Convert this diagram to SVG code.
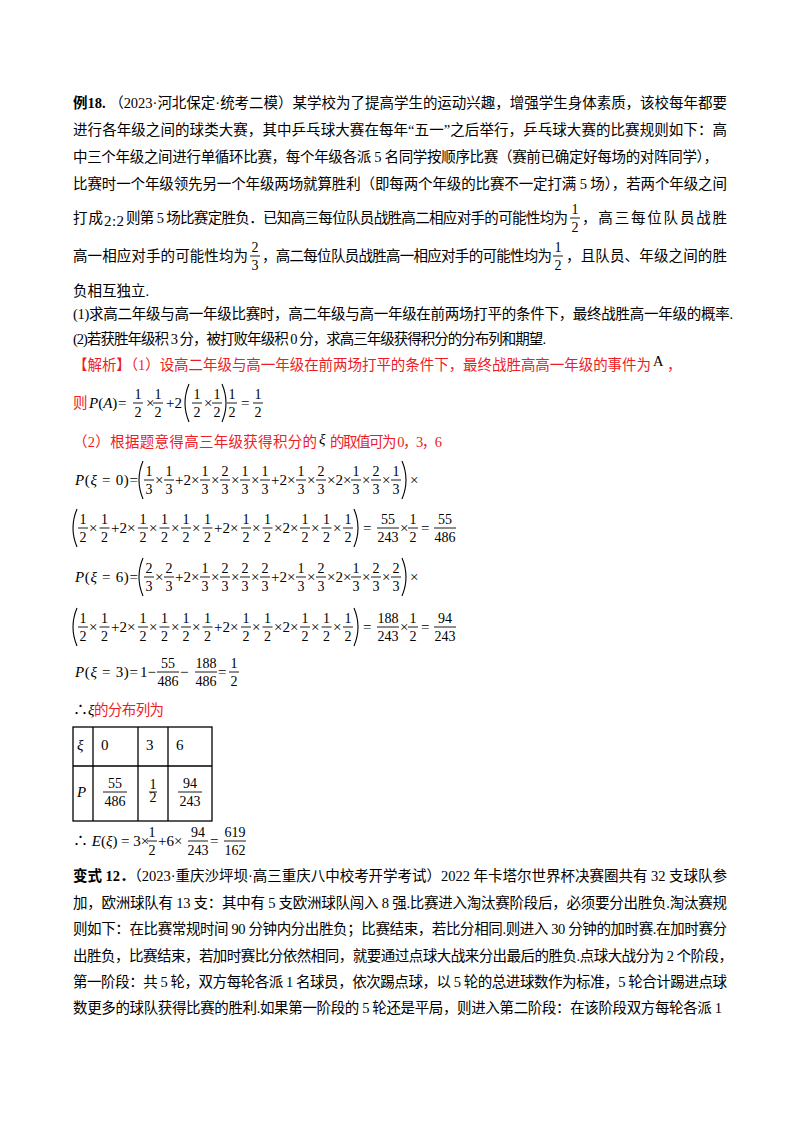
<svg xmlns="http://www.w3.org/2000/svg" xmlns:xlink="http://www.w3.org/1999/xlink" width="800" height="1132" viewBox="0 0 800 1132">
<style>
.t{font-family:"Liberation Serif","Noto Sans CJK SC",serif;font-size:14.5px;fill:#000}
.r{fill:#ee1c25}
.m{font-family:"Liberation Serif","Noto Sans CJK SC",serif;font-size:15px;fill:#000}
.n{font-family:"Liberation Serif",serif;font-size:14px;text-anchor:middle;fill:#000}
.i{font-style:italic}
.bar{stroke:#000;stroke-width:0.9}
.pa{fill:none;stroke:#000;stroke-width:1.1}
.tb{fill:none;stroke:#000;stroke-width:1.3}
</style>
<defs>
<g id="f12"><text class="n" x="0" y="-4">1</text><line class="bar" x1="-5" y1="0" x2="5" y2="0"/><text class="n" x="0" y="14">2</text></g>
<g id="f13"><text class="n" x="0" y="-4">1</text><line class="bar" x1="-5" y1="0" x2="5" y2="0"/><text class="n" x="0" y="14">3</text></g>
<g id="f23"><text class="n" x="0" y="-4">2</text><line class="bar" x1="-5" y1="0" x2="5" y2="0"/><text class="n" x="0" y="14">3</text></g>
<path id="lp" class="pa" d="M5,-19 Q-3,0 5,19"/>
<path id="rp" class="pa" d="M-5,-19 Q3,0 -5,19"/>
</defs>
<rect width="800" height="1132" fill="#fff"/>

<g id="problem">
<text class="t" x="73" y="108" textLength="654"><tspan font-weight="bold">例18.</tspan> （2023·河北保定·统考二模）某学校为了提高学生的运动兴趣，增强学生身体素质，该校每年都要</text>
<text class="t" x="73" y="135" textLength="654">进行各年级之间的球类大赛，其中乒乓球大赛在每年“五一”之后举行，乒乓球大赛的比赛规则如下：高</text>
<text class="t" x="73" y="162" textLength="645">中三个年级之间进行单循环比赛，每个年级各派 5 名同学按顺序比赛（赛前已确定好每场的对阵同学），</text>
<text class="t" x="73" y="189" textLength="654">比赛时一个年级领先另一个年级两场就算胜利（即每两个年级的比赛不一定打满 5 场），若两个年级之间</text>
<text class="t" x="73" y="223" textLength="30">打成</text>
<text class="m" x="104" y="226" textLength="20">2:2</text>
<text class="t" x="126" y="223" textLength="442">则第 5 场比赛定胜负．已知高三每位队员战胜高二相应对手的可能性均为</text>
<use xlink:href="#f12" x="575" y="218"/>
<text class="t" x="582" y="223" textLength="145">，高三每位队员战胜</text>
<text class="t" x="73" y="261" textLength="175">高一相应对手的可能性均为</text>
<use xlink:href="#f23" x="255" y="256"/>
<text class="t" x="262" y="261" textLength="290">，高二每位队员战胜高一相应对手的可能性均为</text>
<use xlink:href="#f12" x="558" y="256"/>
<text class="t" x="566" y="261" textLength="161">，且队员、年级之间的胜</text>
<text class="t" x="73" y="296">负相互独立.</text>
<text class="t" x="73" y="319" textLength="660">(1)求高二年级与高一年级比赛时，高二年级与高一年级在前两场打平的条件下，最终战胜高一年级的概率.</text>
<text class="t" x="73" y="344" textLength="473">(2)若获胜年级积 3 分，被打败年级积 0 分，求高三年级获得积分的分布列和期望.</text>
</g>

<g id="solution">
<text class="t r" x="73" y="370" textLength="578">【解析】（1）设高二年级与高一年级在前两场打平的条件下，最终战胜高高一年级的事件为</text>
<text class="t" x="653" y="366" font-size="10">A</text>
<text class="t r" x="667" y="370">，</text>

<text class="t r" x="73" y="408">则</text>
<text class="m" x="89" y="408"><tspan class="i">P</tspan>(<tspan class="i">A</tspan>)</text>
<text class="m" x="118" y="408">=</text>
<use xlink:href="#f12" x="138" y="403"/>
<text class="m" x="146" y="408">×</text>
<use xlink:href="#f12" x="158" y="403"/>
<text class="m" x="166" y="408">+2</text>
<use xlink:href="#lp" x="184" y="403"/>
<use xlink:href="#f12" x="197" y="403"/>
<text class="m" x="204" y="408">×</text>
<use xlink:href="#f12" x="217" y="403"/>
<use xlink:href="#rp" x="227" y="403"/>
<use xlink:href="#f12" x="232" y="403"/>
<text class="m" x="241" y="408">=</text>
<use xlink:href="#f12" x="258" y="403"/>

<text class="t r" x="73" y="447" textLength="244">（2）根据题意得高三年级获得积分的</text>
<text class="m i" x="319" y="444" font-size="12">ξ</text>
<text class="t r" x="330" y="447" textLength="112">的取值可为 0，3，6</text>

<g id="p0a" transform="translate(0,480)">
<text class="m" x="75" y="5" textLength="63"><tspan class="i">P</tspan>(<tspan class="i">ξ</tspan> = 0)=</text>
<use xlink:href="#lp" x="138" y="0"/>
<use xlink:href="#f13" x="149"/><text class="m" x="155" y="5">×</text><use xlink:href="#f13" x="169"/>
<text class="m" x="175" y="5">+2×</text>
<use xlink:href="#f13" x="205"/><text class="m" x="211" y="5">×</text><use xlink:href="#f23" x="225"/><text class="m" x="231" y="5">×</text><use xlink:href="#f13" x="245"/><text class="m" x="251" y="5">×</text><use xlink:href="#f13" x="265"/>
<text class="m" x="271" y="5">+2×</text>
<use xlink:href="#f13" x="301"/><text class="m" x="307" y="5">×</text><use xlink:href="#f23" x="321"/><text class="m" x="327" y="5">×2×</text>
<use xlink:href="#f13" x="356"/><text class="m" x="362" y="5">×</text><use xlink:href="#f23" x="376"/><text class="m" x="382" y="5">×</text><use xlink:href="#f13" x="396"/>
<use xlink:href="#rp" x="407" y="0"/><text class="m" x="410" y="5">×</text>
</g>

<g id="p0b" transform="translate(0,528)">
<use xlink:href="#lp" x="72" y="0"/>
<use xlink:href="#f12" x="83"/><text class="m" x="89" y="5">×</text><use xlink:href="#f12" x="104.5"/>
<text class="m" x="111" y="5">+2×</text>
<use xlink:href="#f12" x="143"/><text class="m" x="149" y="5">×</text><use xlink:href="#f12" x="164.5"/><text class="m" x="171" y="5">×</text><use xlink:href="#f12" x="186"/><text class="m" x="192" y="5">×</text><use xlink:href="#f12" x="207.5"/>
<text class="m" x="214" y="5">+2×</text>
<use xlink:href="#f12" x="246"/><text class="m" x="252" y="5">×</text><use xlink:href="#f12" x="267.5"/><text class="m" x="274" y="5">×2×</text>
<use xlink:href="#f12" x="305"/><text class="m" x="311" y="5">×</text><use xlink:href="#f12" x="326.5"/><text class="m" x="333" y="5">×</text><use xlink:href="#f12" x="348"/>
<use xlink:href="#rp" x="359" y="0"/>
<text class="m" x="363" y="5">=</text>
<text class="n" x="388" y="-4">55</text><line class="bar" x1="377" y1="0" x2="399" y2="0"/><text class="n" x="388" y="14">243</text>
<text class="m" x="400" y="5">×</text><use xlink:href="#f12" x="413"/>
<text class="m" x="421" y="5">=</text>
<text class="n" x="445" y="-4">55</text><line class="bar" x1="434" y1="0" x2="456" y2="0"/><text class="n" x="445" y="14">486</text>
</g>

<g id="p6a" transform="translate(0,577)">
<text class="m" x="75" y="5" textLength="63"><tspan class="i">P</tspan>(<tspan class="i">ξ</tspan> = 6)=</text>
<use xlink:href="#lp" x="138" y="0"/>
<use xlink:href="#f23" x="149"/><text class="m" x="155" y="5">×</text><use xlink:href="#f23" x="169"/>
<text class="m" x="175" y="5">+2×</text>
<use xlink:href="#f13" x="205"/><text class="m" x="211" y="5">×</text><use xlink:href="#f23" x="225"/><text class="m" x="231" y="5">×</text><use xlink:href="#f23" x="245"/><text class="m" x="251" y="5">×</text><use xlink:href="#f23" x="265"/>
<text class="m" x="271" y="5">+2×</text>
<use xlink:href="#f13" x="301"/><text class="m" x="307" y="5">×</text><use xlink:href="#f23" x="321"/><text class="m" x="327" y="5">×2×</text>
<use xlink:href="#f13" x="356"/><text class="m" x="362" y="5">×</text><use xlink:href="#f23" x="376"/><text class="m" x="382" y="5">×</text><use xlink:href="#f23" x="396"/>
<use xlink:href="#rp" x="407" y="0"/><text class="m" x="410" y="5">×</text>
</g>

<g id="p6b" transform="translate(0,627)">
<use xlink:href="#lp" x="72" y="0"/>
<use xlink:href="#f12" x="83"/><text class="m" x="89" y="5">×</text><use xlink:href="#f12" x="104.5"/>
<text class="m" x="111" y="5">+2×</text>
<use xlink:href="#f12" x="143"/><text class="m" x="149" y="5">×</text><use xlink:href="#f12" x="164.5"/><text class="m" x="171" y="5">×</text><use xlink:href="#f12" x="186"/><text class="m" x="192" y="5">×</text><use xlink:href="#f12" x="207.5"/>
<text class="m" x="214" y="5">+2×</text>
<use xlink:href="#f12" x="246"/><text class="m" x="252" y="5">×</text><use xlink:href="#f12" x="267.5"/><text class="m" x="274" y="5">×2×</text>
<use xlink:href="#f12" x="305"/><text class="m" x="311" y="5">×</text><use xlink:href="#f12" x="326.5"/><text class="m" x="333" y="5">×</text><use xlink:href="#f12" x="348"/>
<use xlink:href="#rp" x="359" y="0"/>
<text class="m" x="363" y="5">=</text>
<text class="n" x="388" y="-4">188</text><line class="bar" x1="377" y1="0" x2="399" y2="0"/><text class="n" x="388" y="14">243</text>
<text class="m" x="400" y="5">×</text><use xlink:href="#f12" x="413"/>
<text class="m" x="421" y="5">=</text>
<text class="n" x="445" y="-4">94</text><line class="bar" x1="434" y1="0" x2="456" y2="0"/><text class="n" x="445" y="14">243</text>
</g>

<g id="p3" transform="translate(0,672)">
<text class="m" x="75" y="5" textLength="63"><tspan class="i">P</tspan>(<tspan class="i">ξ</tspan> = 3)=</text>
<text class="m" x="140" y="5">1−</text>
<text class="n" x="168" y="-4">55</text><line class="bar" x1="157" y1="0" x2="179" y2="0"/><text class="n" x="168" y="14">486</text>
<text class="m" x="180" y="5">−</text>
<text class="n" x="206" y="-4">188</text><line class="bar" x1="195" y1="0" x2="217" y2="0"/><text class="n" x="206" y="14">486</text>
<text class="m" x="218" y="5">=</text>
<use xlink:href="#f12" x="234"/>
</g>

<text class="m" x="73" y="715">∴<tspan class="i">ξ</tspan></text>
<text class="t r" x="94" y="715" textLength="70">的分布列为</text>

<g id="table">
<rect class="tb" x="73" y="727" width="139" height="94"/>
<line class="tb" x1="73" y1="766" x2="212" y2="766"/>
<line class="tb" x1="93" y1="727" x2="93" y2="821"/>
<line class="tb" x1="138" y1="727" x2="138" y2="821"/>
<line class="tb" x1="168" y1="727" x2="168" y2="821"/>
<text class="m i" x="77" y="750">ξ</text>
<text class="m r" x="101" y="750" font-family="Liberation Sans">0</text>
<text class="m r" x="146" y="750" font-family="Liberation Sans">3</text>
<text class="m r" x="176" y="750" font-family="Liberation Sans">6</text>
<text class="m i" x="77" y="797">P</text>
<text class="n" x="115" y="788">55</text><line class="bar" x1="103" y1="792" x2="127" y2="792"/><text class="n" x="115" y="806">486</text>
<text class="n" x="153" y="789" font-size="10">1</text><line class="bar" x1="149" y1="792" x2="157" y2="792"/><text class="n" x="153" y="802" font-size="10">2</text>
<text class="n" x="190" y="788">94</text><line class="bar" x1="178" y1="792" x2="202" y2="792"/><text class="n" x="190" y="806">243</text>
</g>

<g id="expect" transform="translate(0,841)">
<text class="m" x="73" y="5">∴ <tspan class="i">E</tspan>(<tspan class="i">ξ</tspan>) = 3×</text>
<use xlink:href="#f12" x="152"/>
<text class="m" x="158" y="5">+6×</text>
<text class="n" x="198" y="-4">94</text><line class="bar" x1="188" y1="0" x2="208" y2="0"/><text class="n" x="198" y="14">243</text>
<text class="m" x="210" y="5">=</text>
<text class="n" x="235" y="-4">619</text><line class="bar" x1="224" y1="0" x2="246" y2="0"/><text class="n" x="235" y="14">162</text>
</g>
</g>

<g id="variant">
<text class="t" x="73" y="881" textLength="654"><tspan font-weight="bold">变式 12．</tspan>（2023·重庆沙坪坝·高三重庆八中校考开学考试）2022 年卡塔尔世界杯决赛圈共有 32 支球队参</text>
<text class="t" x="73" y="908" textLength="654">加，欧洲球队有 13 支：其中有 5 支欧洲球队闯入 8 强.比赛进入淘汰赛阶段后，必须要分出胜负.淘汰赛规</text>
<text class="t" x="73" y="934" textLength="654">则如下：在比赛常规时间 90 分钟内分出胜负；比赛结束，若比分相同.则进入 30 分钟的加时赛.在加时赛分</text>
<text class="t" x="73" y="961" textLength="660">出胜负，比赛结束，若加时赛比分依然相同，就要通过点球大战来分出最后的胜负.点球大战分为 2 个阶段，</text>
<text class="t" x="73" y="987" textLength="654">第一阶段：共 5 轮，双方每轮各派 1 名球员，依次踢点球，以 5 轮的总进球数作为标准，5 轮合计踢进点球</text>
<text class="t" x="73" y="1013" textLength="649">数更多的球队获得比赛的胜利.如果第一阶段的 5 轮还是平局，则进入第二阶段：在该阶段双方每轮各派 1</text>
</g>
</svg>
